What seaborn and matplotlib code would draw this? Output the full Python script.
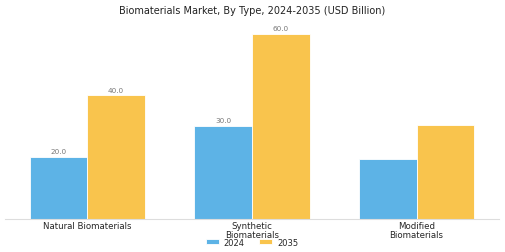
import numpy as np
import pandas as pd
import matplotlib
matplotlib.use("Agg")
import matplotlib.pyplot as plt
import seaborn as sns

categories = ["Natural Biomaterials", "Synthetic\nBiomaterials", "Modified\nBiomaterials"]
values_2024 = [20.0, 30.0, 19.5]
values_2035 = [40.0, 60.0, 30.5]
years = ["2024", "2035"]
shown_labels = [True, True, False]

df = pd.DataFrame({
    "type": categories * 2,
    "year": [years[0]] * 3 + [years[1]] * 3,
    "value": values_2024 + values_2035,
})

sns.set_theme(style="white")
plt.rcParams['font.family'] = ['DejaVu Sans']

fig, ax = plt.subplots(figsize=(5.05, 2.53), dpi=100)
palette = {"2024": "#5DB3E6", "2035": "#F9C44D"}
sns.barplot(data=df, x="type", y="value", hue="year", palette=palette,
            width=0.7, saturation=1, edgecolor="white", linewidth=0.6, ax=ax)

# value labels (only first two groups labelled)
for cont in ax.containers:
    labels = []
    for i, bar in enumerate(cont):
        labels.append(f"{bar.get_height():.1f}" if shown_labels[i] else "")
    ax.bar_label(cont, labels=labels, fontsize=5.2, color="#777777", padding=2)

ax.set_xlim(-0.5, 2.5)
ax.set_ylim(0, 66)
ax.set_xlabel("")
ax.set_ylabel("")
ax.set_yticks([])
ax.tick_params(axis="x", labelsize=6.2, length=0, pad=2)
for lab in ax.get_xticklabels():
    lab.set_linespacing(0.95)
for s in ["top", "right", "left"]:
    ax.spines[s].set_visible(False)
ax.spines["bottom"].set_color("#dddddd")
ax.spines["bottom"].set_linewidth(0.8)

fig.text(0.5, 0.958, "Biomaterials Market, By Type, 2024-2035 (USD Billion)", fontsize=7,
         color="#222222", ha="center", va="center")
ax.legend(loc="upper center", bbox_to_anchor=(0.5, -0.065), ncol=2, frameon=False,
          fontsize=6, handlelength=1.6, handleheight=0.6, handletextpad=0.6,
          columnspacing=1.7, borderpad=0.2)

plt.subplots_adjust(left=0.01, right=0.988, top=0.935, bottom=0.132)
fig.savefig("out.png", dpi=100)
